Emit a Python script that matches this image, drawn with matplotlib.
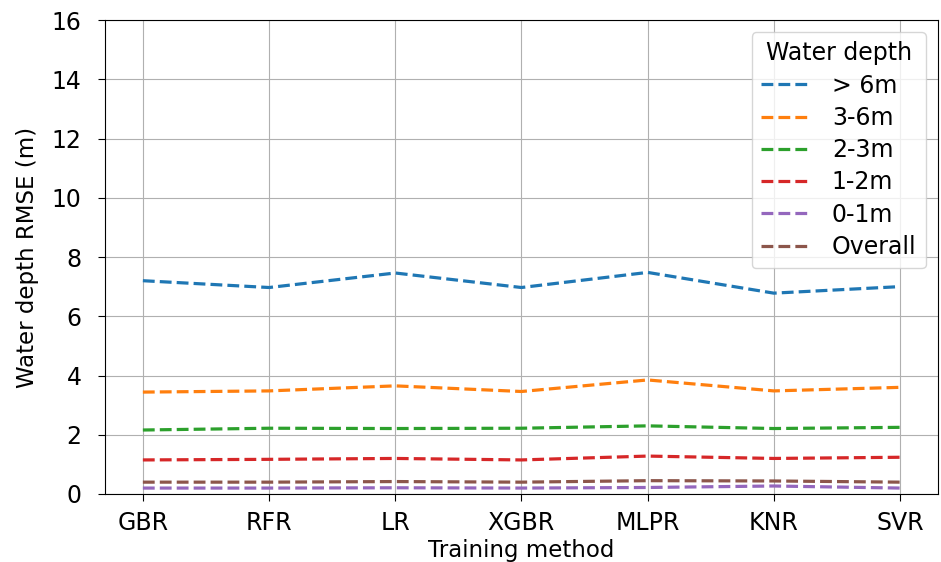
import matplotlib
matplotlib.use("Agg")
import matplotlib.pyplot as plt

methods = ["GBR", "RFR", "LR", "XGBR", "MLPR", "KNR", "SVR"]
depth_labels = ["> 6m", "3-6m", "2-3m", "1-2m", "0-1m", "Overall"]

rmse_gt6 = [7.20, 6.97, 7.46, 6.97, 7.48, 6.78, 7.00]
rmse_3_6 = [3.44, 3.48, 3.65, 3.46, 3.85, 3.48, 3.60]
rmse_2_3 = [2.16, 2.22, 2.21, 2.22, 2.30, 2.21, 2.25]
rmse_1_2 = [1.15, 1.17, 1.20, 1.15, 1.28, 1.20, 1.24]
rmse_0_1 = [0.20, 0.20, 0.21, 0.20, 0.22, 0.27, 0.20]
rmse_all = [0.40, 0.40, 0.42, 0.40, 0.45, 0.44, 0.40]

series = [rmse_gt6, rmse_3_6, rmse_2_3, rmse_1_2, rmse_0_1, rmse_all]

FS = 17

fig = plt.figure(figsize=(9.41, 5.62), dpi=100)
ax = fig.add_axes([0.1116, 0.121, 0.885, 0.8434])

for vals, lab in zip(series, depth_labels):
    ax.plot(methods, vals, linestyle="--", linewidth=2.3, label=lab)

ax.set_ylim(0, 16)
ax.set_yticks(range(0, 17, 2))
ax.tick_params(labelsize=FS, length=5)
ax.tick_params(axis="y", pad=12)
ax.tick_params(axis="x", pad=7)
ax.set_xlabel("Training method", fontsize=16.5)
ax.set_ylabel("Water depth RMSE (m)", fontsize=16.5)
ax.xaxis.set_label_coords(0.5, -0.095)
ax.yaxis.set_label_coords(-0.079, 0.5)
ax.grid(True)
ax.legend(title="Water depth", loc="upper right", fontsize=FS,
          title_fontsize=FS, labelspacing=0.35, handletextpad=1.0)

fig.savefig("out.png", dpi=100)
